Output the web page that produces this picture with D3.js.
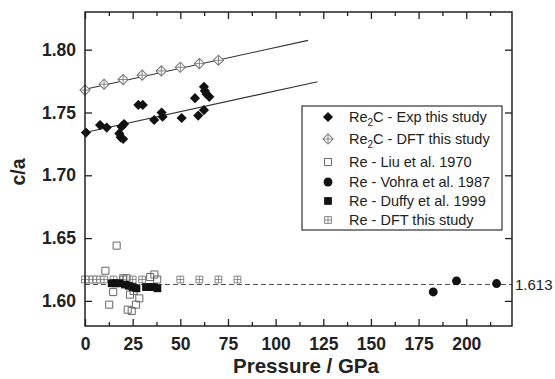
<!DOCTYPE html>
<html>
<head>
<meta charset="utf-8">
<script src="https://cdn.jsdelivr.net/npm/d3@7"></script>
<style>
  body { margin: 0; background: #fff; }
  text { font-family: "Liberation Sans", Arial, sans-serif; }
</style>
</head>
<body>
<svg id="chart" width="555" height="379"></svg>
<script>
// pressure (GPa), c/a
const re2cExp = [
  [0.5, 1.734], [7.9, 1.740], [11.4, 1.738],
  [18.0, 1.7333], [18.7, 1.7302], [20.0, 1.7289], [19.2, 1.7387], [20.5, 1.7408],
  [28.0, 1.756], [30.3, 1.756],
  [36.3, 1.744], [40.2, 1.750], [40.7, 1.7466],
  [50.7, 1.7456],
  [57.7, 1.7614], [59.4, 1.7475], [62.4, 1.7519],
  [62.4, 1.7704], [62.9, 1.7672], [63.8, 1.7646], [65.2, 1.7625]
]
const re2cDft = [
  [0, 1.7678], [10, 1.7725], [20, 1.7762], [30, 1.7797],
  [40, 1.7831], [50, 1.7860], [60, 1.7889], [70, 1.7916]
]
const reLiu = [
  [16.6, 1.644], [10.7, 1.624], [12.7, 1.597], [14.8, 1.607],
  [20.1, 1.618], [21.8, 1.618], [22.4, 1.593], [24.5, 1.592],
  [23.6, 1.605], [26.7, 1.597], [28.5, 1.602], [25.5, 1.608],
  [34.2, 1.619], [36.4, 1.621], [37.9, 1.617]
]
const reVohra = [[182.7, 1.6071], [194.9, 1.6159], [215.9, 1.6138]]
const reDuffy = [
  [14, 1.614], [16, 1.614], [18, 1.614], [21, 1.613], [23, 1.612],
  [25, 1.611], [27, 1.610], [32, 1.611], [34, 1.611], [36, 1.611], [38, 1.610]
]
const reDft = [
  [0, 1.617], [2, 1.617], [4, 1.617], [6, 1.617], [8, 1.617], [10, 1.617],
  [15, 1.617], [20, 1.617], [25, 1.617], [30, 1.617],
  [50, 1.617], [60, 1.617], [70, 1.617], [80, 1.617]
]
// linear fits: start and end points
const fitExp = [[0, 1.7341], [122, 1.7745]]
const fitDft = [[0, 1.7685], [117, 1.8074]]
const refValue = 1.613

const xTicks = [0, 25, 50, 75, 100, 125, 150, 175, 200]
const xMinor = [12.5, 37.5, 62.5, 87.5, 112.5, 137.5, 162.5, 187.5, 212.5]
const yTicks = [1.60, 1.65, 1.70, 1.75, 1.80]

const legendItems = [
  { base: 'Re', sub: '2', rest: 'C - Exp this study', sym: 'diamond' },
  { base: 'Re', sub: '2', rest: 'C - DFT this study', sym: 'diamondCross' },
  { base: 'Re - Liu et al. 1970', sub: '', rest: '', sym: 'squareOpen' },
  { base: 'Re - Vohra et al. 1987', sub: '', rest: '', sym: 'circle' },
  { base: 'Re - Duffy et al. 1999', sub: '', rest: '', sym: 'square' },
  { base: 'Re - DFT this study', sub: '', rest: '', sym: 'squarePlus' }
]

const svg = d3.select('#chart')
svg.append('rect').attr('width', 555).attr('height', 379).attr('fill', '#fff')

const x = d3.scaleLinear().domain([0, 224]).range([85, 512])
const y = d3.scaleLinear().domain([1.58, 1.83]).range([326, 12])

const plot = { left: x.range()[0], right: x.range()[1], top: y.range()[1], bottom: y.range()[0] }

// symbols
const drawSymbol = (g, sym) => {
  if (sym === 'diamond') {
    g.append('path').attr('d', d3.symbol(d3.symbolSquare, 52)()).attr('transform', 'rotate(45)')
      .attr('fill', '#111')
  } else if (sym === 'diamondCross') {
    g.append('path').attr('d', d3.symbol(d3.symbolSquare, 52)()).attr('transform', 'rotate(45)')
      .attr('fill', '#fff').attr('stroke', '#777').attr('stroke-width', 1)
    g.append('path').attr('d', 'M-5,0H5M0,-5V5').attr('stroke', '#777').attr('stroke-width', 0.9)
  } else if (sym === 'squareOpen') {
    g.append('path').attr('d', d3.symbol(d3.symbolSquare, 50)())
      .attr('fill', 'none').attr('stroke', '#666').attr('stroke-width', 1)
  } else if (sym === 'circle') {
    g.append('path').attr('d', d3.symbol(d3.symbolCircle, 62)()).attr('fill', '#111')
  } else if (sym === 'square') {
    g.append('path').attr('d', d3.symbol(d3.symbolSquare, 60)()).attr('fill', '#111')
  } else if (sym === 'squarePlus') {
    g.append('path').attr('d', d3.symbol(d3.symbolSquare, 46)())
      .attr('fill', '#fff').attr('stroke', '#777').attr('stroke-width', 0.9)
    g.append('path').attr('d', 'M-3.4,0H3.4M0,-3.4V3.4').attr('stroke', '#777').attr('stroke-width', 0.8)
  }
}

const drawSeries = (data, sym) => {
  svg.append('g').selectAll('g')
    .data(data)
    .join('g')
    .attr('transform', d => `translate(${x(d[0])},${y(d[1])})`)
    .each(function () { drawSymbol(d3.select(this), sym) })
}

// reference dashed line
svg.append('line')
  .attr('x1', plot.left).attr('x2', plot.right)
  .attr('y1', y(refValue)).attr('y2', y(refValue))
  .attr('stroke', '#555').attr('stroke-width', 1.1).attr('stroke-dasharray', '5,3')
svg.append('text')
  .attr('x', plot.right + 3).attr('y', y(refValue) + 5)
  .attr('font-size', 15).attr('fill', '#222')
  .text(refValue.toFixed(3))

// fit lines
const line = d3.line().x(d => x(d[0])).y(d => y(d[1]))
svg.append('path').attr('d', line(fitExp)).attr('fill', 'none').attr('stroke', '#333').attr('stroke-width', 1.1)
svg.append('path').attr('d', line(fitDft)).attr('fill', 'none').attr('stroke', '#333').attr('stroke-width', 1.1)

drawSeries(reDft, 'squarePlus')
drawSeries(reLiu, 'squareOpen')
drawSeries(reDuffy, 'square')
drawSeries(reVohra, 'circle')
drawSeries(re2cDft, 'diamondCross')
drawSeries(re2cExp, 'diamond')

// axes
const axisStyle = g => {
  g.select('.domain').remove()
  g.selectAll('line').attr('stroke', '#222').attr('stroke-width', 1.3)
  g.selectAll('text').attr('font-size', 17.5).attr('font-weight', 'bold').attr('fill', '#222')
}
svg.append('g').attr('transform', `translate(0,${plot.bottom})`)
  .call(d3.axisBottom(x).tickValues(xTicks).tickSize(-7).tickPadding(12))
  .call(axisStyle)
svg.append('g').attr('transform', `translate(0,${plot.bottom})`)
  .call(d3.axisBottom(x).tickValues(xMinor).tickSize(-4).tickFormat(''))
  .call(axisStyle)
svg.append('g').attr('transform', `translate(0,${plot.top})`)
  .call(d3.axisTop(x).tickValues(xTicks).tickSize(-7).tickFormat(''))
  .call(axisStyle)
svg.append('g').attr('transform', `translate(0,${plot.top})`)
  .call(d3.axisTop(x).tickValues(xMinor).tickSize(-4).tickFormat(''))
  .call(axisStyle)
svg.append('g').attr('transform', `translate(${plot.left},0)`)
  .call(d3.axisLeft(y).tickValues(yTicks).tickSize(-7).tickPadding(9).tickFormat(d3.format('.2f')))
  .call(axisStyle)
svg.append('g').attr('transform', `translate(${plot.right},0)`)
  .call(d3.axisRight(y).tickValues(yTicks).tickSize(-7).tickFormat(''))
  .call(axisStyle)

// frame
svg.append('rect')
  .attr('x', plot.left).attr('y', plot.top)
  .attr('width', plot.right - plot.left).attr('height', plot.bottom - plot.top)
  .attr('fill', 'none').attr('stroke', '#222').attr('stroke-width', 1.5)

// axis titles
svg.append('text')
  .attr('x', 306).attr('y', 373)
  .attr('text-anchor', 'middle').attr('font-size', 20.5).attr('font-weight', 'bold').attr('fill', '#222')
  .text('Pressure / GPa')
svg.append('text')
  .attr('transform', 'translate(25,172) rotate(-90)')
  .attr('text-anchor', 'middle').attr('font-size', 19.5).attr('font-weight', 'bold').attr('fill', '#222')
  .text('c/a')

// legend
const legend = svg.append('g')
legend.append('rect')
  .attr('x', 302).attr('y', 106).attr('width', 200).attr('height', 124)
  .attr('fill', '#fff').attr('stroke', '#333').attr('stroke-width', 1.2)
const rowY = [117, 139, 162, 182, 201, 220]
legendItems.forEach((item, i) => {
  const row = legend.append('g').attr('transform', `translate(0,${rowY[i]})`)
  const s = row.append('g').attr('transform', 'translate(328,0)')
  drawSymbol(s, item.sym)
  const t = row.append('text').attr('x', 349).attr('y', 5).attr('font-size', 14.5).attr('fill', '#222')
  t.append('tspan').text(item.base)
  if (item.sub) {
    t.append('tspan').attr('font-size', 10).attr('dy', 4).text(item.sub)
    t.append('tspan').attr('dy', -4).text(item.rest)
  }
})
</script>
</body>
</html>
